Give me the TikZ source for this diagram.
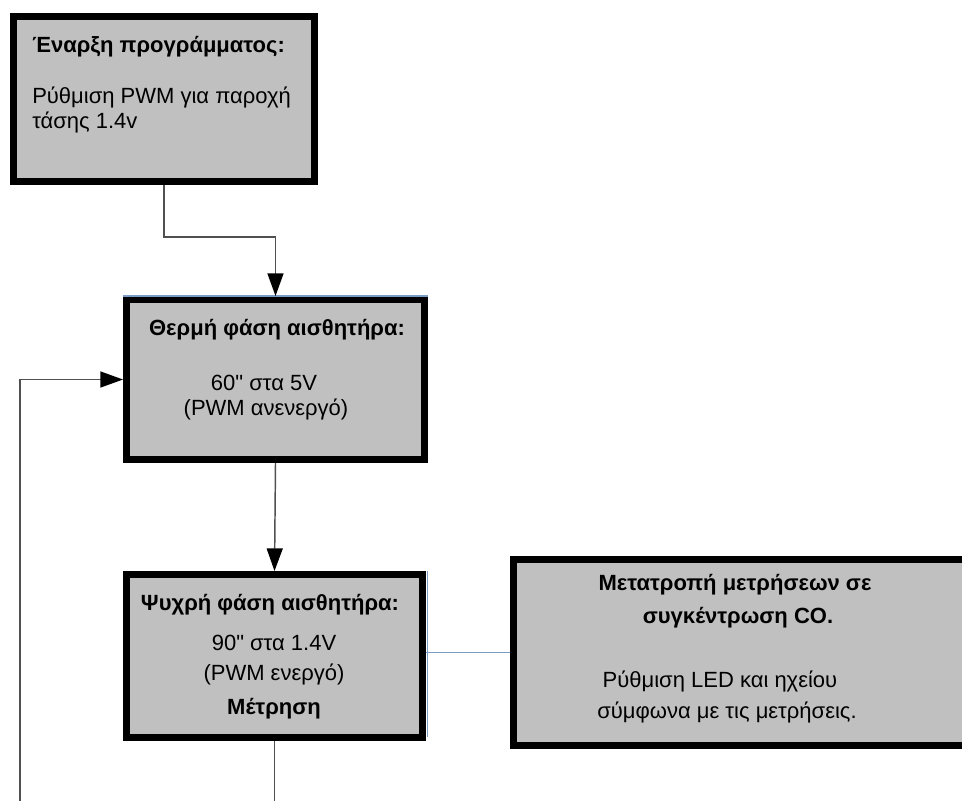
\documentclass[tikz,border=0pt]{standalone}
\usepackage{fontspec}
\setmainfont{Liberation Sans}[Ligatures=TeXOff]
\usetikzlibrary{arrows.meta}
\definecolor{boxgray}{HTML}{C0C0C0}
\definecolor{linkblue}{HTML}{7B9CC4}
\definecolor{conngray}{HTML}{505050}
\tikzset{
  box/.style={draw=black, line width=5.25pt, fill=boxgray, inner sep=0pt, rectangle},
  conn/.style={draw=conngray, line width=1.1pt, -{Triangle[length=17pt,width=12pt,fill=black,color=black]}},
  plainconn/.style={draw=conngray, line width=1.1pt},
  link/.style={draw=linkblue, line width=1.1pt},
  txt/.style={anchor=base, inner sep=0pt, font=\fontsize{16.5}{20}\selectfont},
  btxt/.style={txt, font=\fontsize{16.5}{20}\selectfont\bfseries},
}
\begin{document}
\begin{tikzpicture}[x=0.75pt,y=-0.75pt]
\useasboundingbox (0,0) rectangle (962,800);
\clip (0,0) rectangle (962,800);
% boxes
\node[box, minimum width=225.75pt, minimum height=123.75pt] (b1) at (164,99) {};
\node[box, minimum width=223.5pt, minimum height=120pt] (b2) at (275.5,379.5) {};
\node[box, minimum width=222pt, minimum height=122.25pt] (b3) at (274.5,656) {};
\node[box, minimum width=357.4pt, minimum height=139.5pt] (b4) at (751.75,652.5) {};
% thin blue edges
\draw[link, line width=0.8pt] (b2.north west) -- (b2.north east);
\draw[link, line width=0.8pt] ([xshift=1pt]b3.north east) -- ([xshift=1pt,yshift=3pt]b3.south east);
% texts box 1
\node[btxt, anchor=base west] (t11) at (32,52) {Έναρξη προγράμματος:};
\node[txt, anchor=base west] (t12) at (32,103) {Ρύθμιση PWM για παροχή};
\node[txt, anchor=base west] (t13) at (32,128) {τάσης 1.4v};
% box 2
\node[btxt] (t21) at (277,335) {Θερμή φάση αισθητήρα:};
\node[txt] (t22) at (264,390) {60" στα 5V};
\node[txt] (t23) at (266,415) {(PWM ανενεργό)};
% box 3
\node[btxt] (t31) at (270,610) {Ψυχρή φάση αισθητήρα:};
\node[txt] (t32) at (274,650) {90" στα 1.4V};
\node[txt] (t33) at (274,680) {(PWM ενεργό)};
\node[btxt] (t34) at (274,714) {Μέτρηση};
% box 4
\node[btxt] (t41) at (735,590) {Μετατροπή μετρήσεων σε};
\node[btxt] (t42) at (738,623) {συγκέντρωση CO.};
\node[txt] (t43) at (720,687) {Ρύθμιση LED και ηχείου};
\node[txt] (t44) at (727,718) {σύμφωνα με τις μετρήσεις.};
% connectors
\coordinate (j1) at (275.5,237);
\coordinate (e1) at (274.5,805);
\coordinate (e2) at (20,805);
\draw[conn] (b1.south) |- (j1) -- (b2.north);
\draw[conn] (b2.south) -- (b3.north);
\draw[plainconn] (b3.south) -- (e1);
\draw[conn] (e2) |- (b2.west);
\draw[link] (b4.west -| b3.east) -- (b4.west);
\end{tikzpicture}
\end{document}
